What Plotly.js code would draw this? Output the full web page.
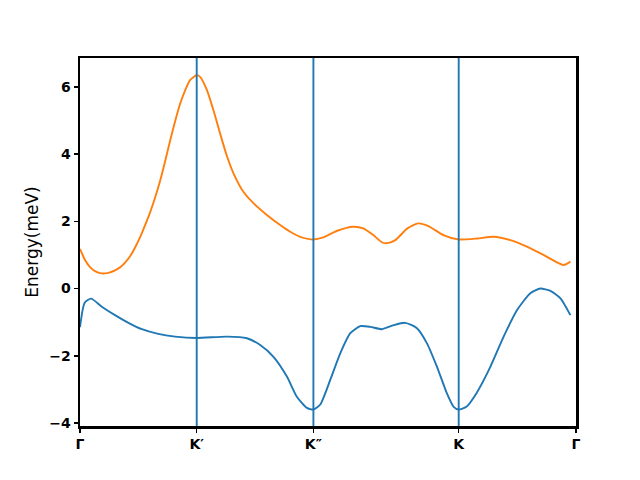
<!DOCTYPE html>
<html>
<head>
<meta charset="utf-8">
<script src="https://cdn.plot.ly/plotly-3.0.1.min.js"></script>
<style>
  body { margin: 0; }
  #chart { width: 640px; height: 480px; }
</style>
</head>
<body>
<div id="chart"></div>
<script>
// path positions of the high symmetry points
let kTicks = [0, 1.0, 2.0, 3.245, 4.25];
let kLabels = ['Γ', 'K′', 'K″', 'K', 'Γ'];

// lower band (blue)
let kLower = [0.0, 0.04, 0.095, 0.187, 0.3, 0.415, 0.53, 0.67, 0.815, 1.0,
    1.26, 1.43, 1.544, 1.658, 1.773, 1.858, 1.944, 2.0, 2.059, 2.144,
    2.23, 2.316, 2.401, 2.487, 2.587, 2.687, 2.787, 2.887, 2.973, 3.059,
    3.144, 3.202, 3.245, 3.31, 3.396, 3.516, 3.63, 3.745, 3.859, 3.945,
    4.031, 4.117, 4.202];
let eLower = [-1.15, -0.42, -0.3, -0.54, -0.79, -1.02, -1.21, -1.35, -1.43, -1.47,
    -1.43, -1.48, -1.68, -2.03, -2.62, -3.22, -3.55, -3.6, -3.45, -2.72,
    -1.93, -1.33, -1.12, -1.14, -1.21, -1.09, -1.02, -1.18, -1.63, -2.33,
    -3.12, -3.52, -3.6, -3.52, -3.12, -2.33, -1.43, -0.64, -0.14, 0.0,
    -0.07, -0.29, -0.79];

// upper band (orange)
let kUpper = [0.0, 0.043, 0.086, 0.129, 0.172, 0.214, 0.257, 0.3, 0.343, 0.386,
    0.429, 0.472, 0.515, 0.557, 0.6, 0.643, 0.686, 0.729, 0.772, 0.815,
    0.858, 0.901, 0.943, 1.0, 1.029, 1.087, 1.143, 1.2, 1.258, 1.315,
    1.4, 1.486, 1.601, 1.715, 1.801, 1.887, 2.0, 2.084,
    2.204, 2.341, 2.427, 2.513, 2.59, 2.633, 2.702, 2.805, 2.899, 2.985,
    3.113, 3.245, 3.405, 3.542, 3.688, 3.834, 3.971, 4.142, 4.202];
let eUpper = [1.18, 0.85, 0.64, 0.52, 0.46, 0.45, 0.48, 0.54, 0.63, 0.77,
    0.96, 1.22, 1.53, 1.88, 2.26, 2.7, 3.2, 3.78, 4.4, 4.98,
    5.5, 5.9, 6.2, 6.35, 6.3, 5.91, 5.31, 4.62, 3.95, 3.43,
    2.88, 2.54, 2.19, 1.89, 1.69, 1.54, 1.46, 1.52,
    1.72, 1.84, 1.79, 1.59, 1.37, 1.35, 1.44, 1.79, 1.94, 1.86,
    1.59, 1.46, 1.49, 1.54, 1.44, 1.24, 1.0, 0.7, 0.8];

let bands = [
    {x: kLower, y: eLower, color: '#1f77b4'},
    {x: kUpper, y: eUpper, color: '#ff7f0e'}
];

let traces = bands.map(b => ({
    x: b.x,
    y: b.y,
    mode: 'lines',
    line: {color: b.color, width: 1.9, shape: 'spline', smoothing: 0.6},
    showlegend: false,
    hoverinfo: 'skip'
}));

// vertical lines at the inner high symmetry points
let shapes = kTicks.slice(1, -1).map(k => ({
    type: 'line',
    xref: 'x',
    yref: 'paper',
    x0: k,
    x1: k,
    y0: 0,
    y1: 1,
    layer: 'above',
    line: {color: '#1f77b4', width: 1.9}
}));

let tickFont = {family: 'DejaVu Sans', size: 14, color: '#000', weight: 'bold'};

Plotly.newPlot('chart', traces, {
    width: 640,
    height: 480,
    margin: {l: 80, r: 64, t: 58, b: 54},
    paper_bgcolor: '#fff',
    plot_bgcolor: '#fff',
    shapes: shapes,
    xaxis: {
        range: [kTicks[0], kTicks[kTicks.length - 1]],
        tickmode: 'array',
        tickvals: kTicks,
        ticktext: kLabels,
        ticks: 'outside',
        ticklen: 4,
        tickwidth: 1.5,
        tickcolor: '#000',
        tickfont: tickFont,
        showgrid: false,
        zeroline: false,
        showline: true,
        linecolor: '#000',
        linewidth: 2.5,
        mirror: true
    },
    yaxis: {
        range: [-4.09, 6.86],
        tickmode: 'array',
        tickvals: [-4, -2, 0, 2, 4, 6],
        ticktext: ['−4', '−2', '0', '2', '4', '6'],
        ticks: 'outside',
        ticklen: 4,
        tickwidth: 1.5,
        tickcolor: '#000',
        tickfont: tickFont,
        showgrid: false,
        zeroline: false,
        showline: true,
        linecolor: '#000',
        linewidth: 2.5,
        mirror: true,
        title: {
            text: 'Energy(meV)',
            font: {family: 'DejaVu Sans', size: 17, color: '#000'},
            standoff: 7
        }
    }
}, {staticPlot: true});
</script>
</body>
</html>
